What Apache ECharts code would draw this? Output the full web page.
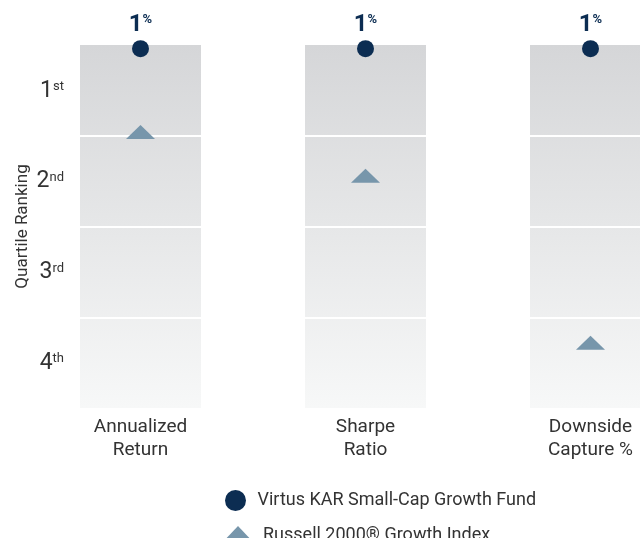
<!DOCTYPE html>
<html>
<head>
<meta charset="utf-8">
<script src="https://cdn.jsdelivr.net/npm/echarts@6/dist/echarts.min.js"></script>
<style>
  html, body { margin: 0; padding: 0; background: #fff; }
  #chart { width: 640px; height: 538px; }
</style>
</head>
<body>
<div id="chart"></div>
<script>
// percentile rank, 0 = best (top), 100 = worst (bottom)
var categories = ['Annualized\nReturn', 'Sharpe\nRatio', 'Downside\nCapture %'];
var fundPct = [1, 1, 1];
var indexPct = [24, 36, 82];
var quartileLines = [25, 50, 75];
var quartileLabels = { 12.5: ['1', 'st'], 37.5: ['2', 'nd'], 62.5: ['3', 'rd'], 87.5: ['4', 'th'] };
var fundName = 'Virtus KAR Small-Cap Growth Fund';
var indexName = 'Russell 2000\u00ae Growth Index';

var FONT = '"Liberation Sans Narrow", Roboto, sans-serif';
var navy = '#0c2d52';
var steel = '#7796ab';

var legendText = { fontFamily: FONT, fontSize: 18, color: '#333' };

var chart = echarts.init(document.getElementById('chart'));
chart.setOption({
  animation: false,
  textStyle: { fontFamily: FONT },
  grid: { left: 28, top: 45, right: -63, height: 363, outerBoundsMode: 'none', containLabel: false },
  legend: [
    {
      left: 225, top: 490, padding: 0, itemWidth: 34, itemHeight: 21, itemGap: 0,
      textStyle: legendText,
      data: [{ name: fundName, icon: 'circle' }]
    },
    {
      left: 220, top: 526, padding: 0, itemWidth: 36, itemHeight: 19, itemGap: 0,
      symbolKeepAspect: false,
      textStyle: Object.assign({ padding: [0, 0, 0, 2] }, legendText),
      data: [{ name: indexName, icon: 'path://M0,15L14.5,0L29,15Z' }]
    }
  ],
  xAxis: {
    type: 'category',
    data: categories,
    axisLine: { show: false },
    axisTick: { show: false },
    axisLabel: { fontFamily: FONT, fontSize: 19, lineHeight: 23, color: '#333', margin: 8 }
  },
  yAxis: {
    type: 'value',
    inverse: true,
    min: 0,
    max: 100,
    interval: 12.5,
    offset: -44,
    name: 'Quartile Ranking',
    nameLocation: 'middle',
    nameGap: 41,
    nameMoveOverlap: false,
    nameTextStyle: { fontFamily: FONT, fontSize: 17, color: '#333' },
    axisLine: { show: false },
    axisTick: { show: false },
    splitLine: { show: false },
    axisLabel: {
      margin: 8,
      formatter: function (v) {
        var q = quartileLabels[v];
        return q ? '{n|' + q[0] + '}{s|' + q[1] + '}' : '';
      },
      rich: {
        n: { fontFamily: FONT, fontSize: 23, color: '#333', verticalAlign: 'bottom', lineHeight: 24, padding: [6, 0, 0, 0] },
        s: { fontFamily: FONT, fontSize: 13, color: '#333', verticalAlign: 'top', lineHeight: 24, padding: [2, 0, 0, 0] }
      }
    }
  },
  series: [
    {
      type: 'bar',
      silent: true,
      barWidth: 121,
      data: categories.map(function () { return 100; }),
      itemStyle: {
        color: new echarts.graphic.LinearGradient(0, 0, 0, 1, [
          { offset: 0, color: '#d5d6d8' },
          { offset: 1, color: '#f7f8f8' }
        ])
      },
      markLine: {
        silent: true,
        symbol: 'none',
        label: { show: false },
        lineStyle: { color: '#fff', width: 2, type: 'solid' },
        data: quartileLines.map(function (v) { return { yAxis: v }; })
      }
    },
    {
      name: indexName,
      type: 'scatter',
      z: 10,
      symbol: 'triangle',
      symbolSize: [29, 14],
      itemStyle: { color: steel, opacity: 1 },
      data: indexPct
    },
    {
      name: fundName,
      type: 'scatter',
      z: 11,
      symbol: 'circle',
      symbolSize: 17,
      itemStyle: { color: navy, opacity: 1 },
      data: fundPct,
      label: {
        show: true,
        position: 'top',
        distance: 3,
        formatter: function (p) { return '{v|' + p.value + '}{p|%}'; },
        rich: {
          v: { fontFamily: FONT, fontSize: 24, fontWeight: 'bold', color: navy, verticalAlign: 'bottom', lineHeight: 24 },
          p: { fontFamily: FONT, fontSize: 13, fontWeight: 'bold', color: navy, verticalAlign: 'top', lineHeight: 24 }
        }
      }
    }
  ]
});
</script>
</body>
</html>
